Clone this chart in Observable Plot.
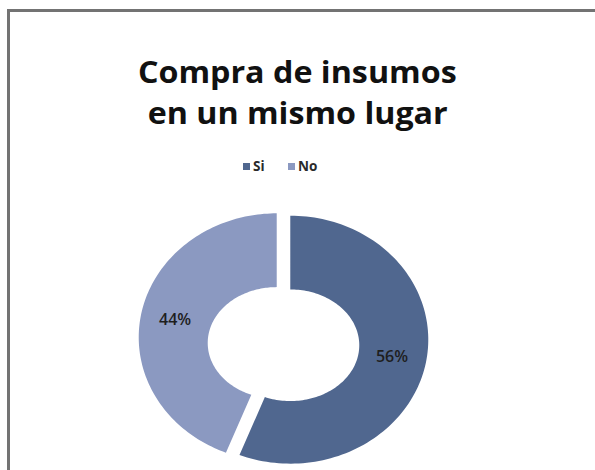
<!DOCTYPE html>
<html><head><meta charset="utf-8">
<script src="https://cdn.jsdelivr.net/npm/d3@7"></script>
<script src="https://cdn.jsdelivr.net/npm/@observablehq/plot@0.6"></script>
<style>
html,body{margin:0;padding:0;background:#fff;}
#page{position:relative;width:595px;height:470px;overflow:hidden;font-family:"Open Sans",Lato,sans-serif;}
#frame{position:absolute;left:7px;top:9px;width:600px;height:480px;border-left:3px solid #737373;border-top:3px solid #737373;box-sizing:border-box;}
.tl{position:absolute;left:0;width:595px;text-align:center;font-weight:700;font-size:30px;line-height:30px;color:#111;white-space:nowrap;}
.tl span{display:inline-block;transform-origin:center;}
.lg{position:absolute;font-weight:700;font-size:13.5px;line-height:14px;color:#2a2a2a;}
.sw{position:absolute;width:7px;height:7px;}
#chart{position:absolute;left:0;top:180px;}
</style></head>
<body>
<div id="page">
  <div id="frame"></div>
  <div class="tl" id="t1" style="top:57px"><span data-w="319"></span></div>
  <div class="tl" id="t2" style="top:98px"><span data-w="300"></span></div>
  <div id="legend"></div>
  <div id="chart"></div>
</div>
<script>
const titleLines = ["Compra de insumos", "en un mismo lugar"];
const categories = ["Si", "No"];
const values = [56, 44];
const colors = ["#50678f", "#8b99c1"];

// title
document.querySelector("#t1 span").textContent = titleLines[0];
document.querySelector("#t2 span").textContent = titleLines[1];
document.querySelectorAll(".tl span").forEach(s => {
  const w = s.getBoundingClientRect().width;
  s.style.transform = `scaleX(${(+s.dataset.w / w).toFixed(3)})`;
});

// legend
const legend = document.getElementById("legend");
const legendX = [243, 288];
categories.forEach((c, i) => {
  const sw = document.createElement("div");
  sw.className = "sw";
  sw.style.left = legendX[i] + "px";
  sw.style.top = "163px";
  sw.style.background = colors[i];
  legend.appendChild(sw);
  const t = document.createElement("div");
  t.className = "lg";
  t.style.left = (legendX[i] + 10) + "px";
  t.style.top = "159px";
  t.textContent = c;
  legend.appendChild(t);
});

// donut geometry (angles from d3.pie, clockwise from 12 o'clock)
const arcs = d3.pie().sort(null)(values);
const outerR = 1, innerRx = 0.5, innerRy = 0.45, innerDy = -0.045, explode = 0.05, steps = 120;
const points = [];
const labels = [];
arcs.forEach((a, i) => {
  const mid = (a.startAngle + a.endAngle) / 2;
  const ox = explode * Math.sin(mid), oy = explode * Math.cos(mid);
  for (let k = 0; k <= steps; k++) {
    const t = a.startAngle + (a.endAngle - a.startAngle) * k / steps;
    points.push({name: categories[i], x: outerR * Math.sin(t) + ox, y: outerR * Math.cos(t) + oy});
  }
  for (let k = steps; k >= 0; k--) {
    const t = a.startAngle + (a.endAngle - a.startAngle) * k / steps;
    points.push({name: categories[i], x: innerRx * Math.sin(t) + ox, y: innerRy * Math.cos(t) + innerDy + oy});
  }
  const lr = 0.75;
  labels.push({name: categories[i], text: values[i] + "%", x: lr * Math.sin(mid) + ox, y: lr * Math.cos(mid) + oy});
});

const chart = Plot.plot({
  width: 595,
  height: 290,
  margin: 0,
  style: {background: "transparent", overflow: "visible"},
  x: {domain: [-1, 1], range: [145, 421], axis: null},
  y: {domain: [-1, 1], range: [282, 34], axis: null},
  color: {domain: categories, range: colors},
  marks: [
    Plot.line(points, {x: "x", y: "y", z: "name", fill: "name", stroke: null, curve: "linear"}),
    Plot.text(labels, {x: "x", y: "y", text: "text", fill: "#1e1e1e", fontSize: 16, fontWeight: 600, fontFamily: "Open Sans, sans-serif", style: {letterSpacing: "1.2px"}})
  ]
});
document.getElementById("chart").appendChild(chart);
</script>
</body></html>
